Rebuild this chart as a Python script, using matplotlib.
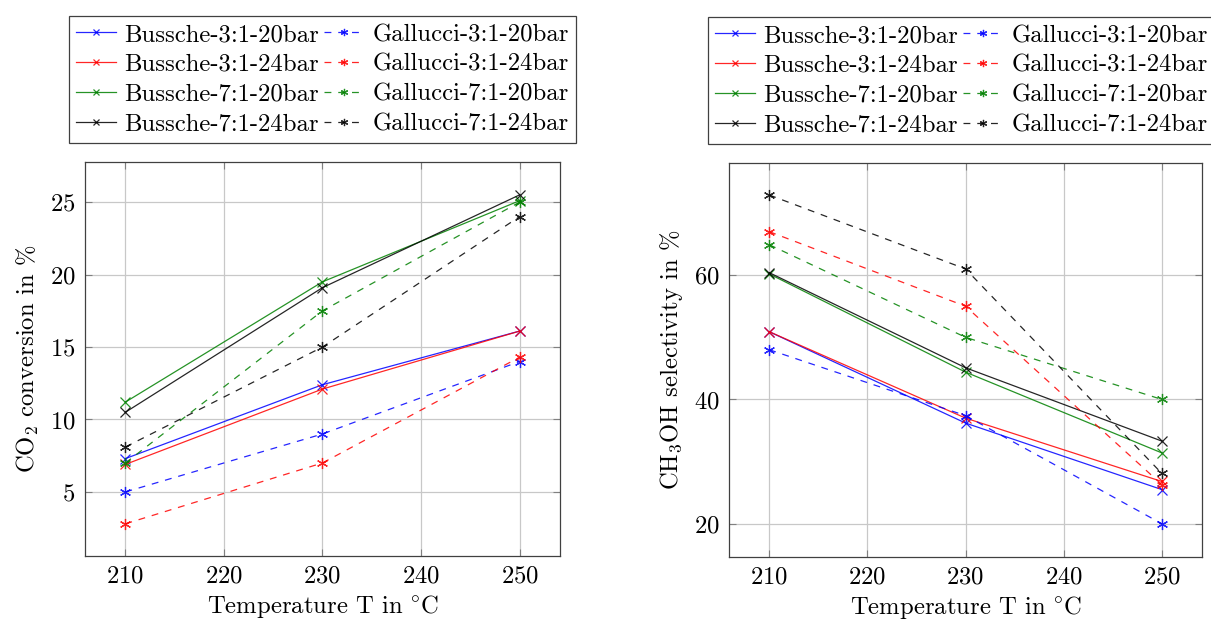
import matplotlib
matplotlib.use('Agg')
import matplotlib.pyplot as plt

plt.rcParams['font.family'] = ['cmr10', 'DejaVu Serif']
plt.rcParams['mathtext.fontset'] = 'cm'
plt.rcParams['axes.formatter.use_mathtext'] = True
plt.rcParams['font.size'] = 17.8

temps = [210, 230, 250]

# CO2 conversion in %
conv_bussche_3_20 = [7.3, 12.4, 16.1]
conv_bussche_3_24 = [6.9, 12.1, 16.1]
conv_bussche_7_20 = [11.2, 19.5, 25.1]
conv_bussche_7_24 = [10.5, 19.1, 25.5]
conv_gallucci_3_20 = [5.0, 9.0, 14.0]
conv_gallucci_3_24 = [2.8, 7.0, 14.3]
conv_gallucci_7_20 = [7.0, 17.5, 25.0]
conv_gallucci_7_24 = [8.1, 15.0, 24.0]

# CH3OH selectivity in %
sel_bussche_3_20 = [50.9, 36.2, 25.5]
sel_bussche_3_24 = [50.9, 37.0, 26.8]
sel_bussche_7_20 = [60.2, 44.4, 31.4]
sel_bussche_7_24 = [60.4, 45.1, 33.3]
sel_gallucci_3_20 = [48.0, 37.4, 20.0]
sel_gallucci_3_24 = [67.0, 55.0, 26.3]
sel_gallucci_7_20 = [64.9, 50.0, 40.0]
sel_gallucci_7_24 = [72.9, 61.0, 28.1]

labels_bussche = ['Bussche-3:1-20bar', 'Bussche-3:1-24bar',
                  'Bussche-7:1-20bar', 'Bussche-7:1-24bar']
labels_gallucci = ['Gallucci-3:1-20bar', 'Gallucci-3:1-24bar',
                   'Gallucci-7:1-20bar', 'Gallucci-7:1-24bar']
colors = ['#0000ff', '#ff0000', '#008000', '#000000']

conv_bussche = [conv_bussche_3_20, conv_bussche_3_24, conv_bussche_7_20, conv_bussche_7_24]
conv_gallucci = [conv_gallucci_3_20, conv_gallucci_3_24, conv_gallucci_7_20, conv_gallucci_7_24]
sel_bussche = [sel_bussche_3_20, sel_bussche_3_24, sel_bussche_7_20, sel_bussche_7_24]
sel_gallucci = [sel_gallucci_3_20, sel_gallucci_3_24, sel_gallucci_7_20, sel_gallucci_7_24]

star = (6, 2, 0)

fig = plt.figure(figsize=(12.11, 6.19), dpi=100)
ax1 = fig.add_axes([0.0702, 0.1023, 0.3922, 0.6355])
ax2 = fig.add_axes([0.602, 0.1007, 0.3906, 0.6355])


def draw(ax, bussche, gallucci, ylabel, ylim, yticks, leg_x):
    for vals, lab, c in zip(bussche, labels_bussche, colors):
        ax.plot(temps, vals, color=c, lw=0.9, marker='x', ms=6.5, mew=0.9,
                label=lab, alpha=0.85)
    for vals, lab, c in zip(gallucci, labels_gallucci, colors):
        ax.plot(temps, vals, color=c, lw=0.9, ls=(0, (5.5, 5.5)), marker=star,
                ms=8, mew=0.9, label=lab, alpha=0.85)
    ax.set_xlim(205.9, 254.1)
    ax.set_ylim(*ylim)
    ax.set_xticks([210, 220, 230, 240, 250])
    ax.set_yticks(yticks)
    ax.grid(True, color='#c8c8c8', lw=0.9)
    ax.set_axisbelow(True)
    ax.tick_params(direction='in', top=True, right=True, length=5,
                   color='#808080', width=0.8, pad=7)
    for sp in ax.spines.values():
        sp.set_color('#404040')
        sp.set_linewidth(0.9)
    ax.set_xlabel('Temperature T in $\\!^\\circ\\!\\mathrm{C}$', labelpad=4)
    ax.set_ylabel(ylabel, labelpad=6)
    leg = ax.legend(loc='lower center', bbox_to_anchor=(leg_x, 1.05), ncol=2,
                    borderaxespad=0, fancybox=False, edgecolor='#404040',
                    framealpha=1, handlelength=1.6, handletextpad=0.35,
                    columnspacing=0.2, labelspacing=0.3, borderpad=0.3,
                    markerscale=0.65)
    leg.get_frame().set_linewidth(0.9)


draw(ax1, conv_bussche, conv_gallucci, 'CO$_2$ conversion in %',
     (0.6, 27.75), [5, 10, 15, 20, 25], 0.5)
draw(ax2, sel_bussche, sel_gallucci, 'CH$_3$OH selectivity in %',
     (14.7, 78.0), [20, 40, 60], 0.4915)

fig.savefig('out.png', dpi=100)
